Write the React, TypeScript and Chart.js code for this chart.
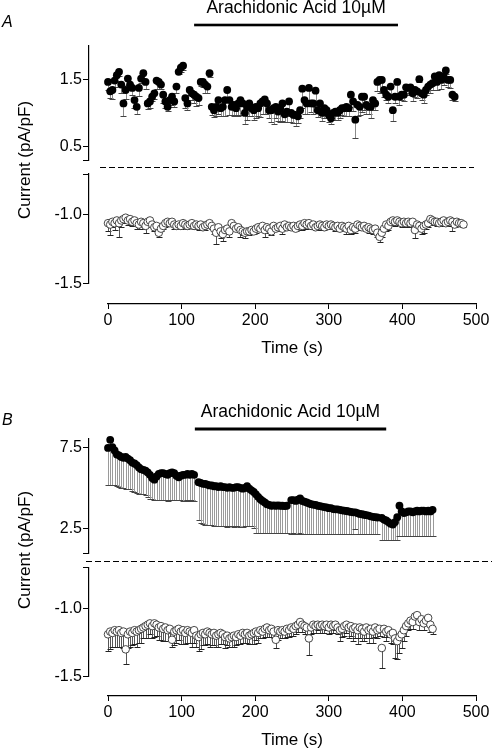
import React, { useEffect, useRef } from 'react';
import { Chart, registerables } from 'chart.js';

Chart.register(...registerables);

const FONT = "'Liberation Sans', Arial, Helvetica, sans-serif";
Chart.defaults.font.family = FONT;
Chart.defaults.color = '#000';

// ---------------- data ----------------
const SAMPLE_INTERVAL_S = 3;
const X_TICKS = [0, 100, 200, 300, 400, 500];
const X_TITLE = 'Time (s)';
const Y_TITLE = 'Current (pA/pF)';
const DRUG_LABEL = 'Arachidonic Acid 10\u00B5M';

// Panel A
const A_DRUG_WINDOW = [117, 394];
const A_UPPER_TICKS = [0.5, 1.5];
const A_LOWER_TICKS = [-1.5, -1.0];

const A_OUTWARD_MEAN = [
  1.46, 1.32, 1.34, 1.48, 1.56, 1.61, 1.42, 1.14, 1.34, 1.51,
  1.42, 1.37, 1.19, 1.09, 1.37, 1.51, 1.59, 1.46, 1.14, 1.17,
  1.24, 1.29, 1.48, 1.46, 1.42, 1.27, 1.17, 1.09, 1.19, 1.24,
  1.17, 1.39, 1.61, 1.67, 1.70, 1.22, 1.14, 1.34, 1.29, 1.27,
  1.24, 1.22, 1.46, 1.46, 1.42, 1.39, 1.59, 1.09, 1.04, 1.09,
  1.19, 1.07, 1.09, 1.19, 1.34, 1.19, 1.09, 1.12, 1.07, 1.14,
  1.19, 1.14, 1.00, 1.09, 1.14, 1.07, 1.04, 1.09, 1.07, 1.14,
  1.17, 1.20, 1.14, 1.04, 1.04, 1.07, 1.09, 1.02, 1.07, 1.14,
  0.98, 1.02, 1.17, 1.00, 0.97, 0.97, 0.95, 1.04, 1.36, 1.19,
  1.14, 1.37, 1.14, 1.14, 1.33, 1.04, 1.14, 1.00, 1.07, 1.04,
  0.97, 0.92, 1.00, 1.02, 1.00, 1.04, 1.07, 1.07, 1.09, 1.07,
  1.27, 1.17, 0.90, 1.12, 1.09, 1.24, 1.24, 1.12, 1.09, 1.09,
  1.19, 1.14, 1.46, 1.49, 1.49, 1.34, 1.27, 1.24, 1.39, 1.04,
  1.24, 1.46, 1.24, 1.27, 1.27, 1.38, 1.37, 1.38, 1.29, 1.34,
  1.32, 1.50, 1.29, 1.27, 1.34, 1.39, 1.42, 1.44, 1.54, 1.46,
  1.56, 1.49, 1.54, 1.63, 1.49, 1.49, 1.27, 1.24,
];
const A_OUTWARD_SEM = [
  0.12, 0.10, 0.14, 0.10, 0.08, 0.06, 0.12, 0.19, 0.14, 0.10,
  0.08, 0.10, 0.12, 0.10, 0.12, 0.06, 0.08, 0.10, 0.08, 0.10,
  0.06, 0.09, 0.12, 0.10, 0.06, 0.12, 0.10, 0.06, 0.10, 0.12,
  0.08, 0.10, 0.04, 0.06, 0.06, 0.14, 0.10, 0.08, 0.10, 0.12,
  0.14, 0.10, 0.06, 0.08, 0.12, 0.10, 0.05, 0.12, 0.10, 0.14,
  0.20, 0.12, 0.14, 0.24, 0.16, 0.22, 0.12, 0.16, 0.10, 0.18,
  0.22, 0.14, 0.16, 0.20, 0.18, 0.12, 0.14, 0.16, 0.12, 0.20,
  0.18, 0.22, 0.16, 0.12, 0.18, 0.24, 0.16, 0.14, 0.20, 0.26,
  0.12, 0.16, 0.22, 0.14, 0.12, 0.16, 0.10, 0.12, 0.28, 0.20,
  0.16, 0.26, 0.12, 0.16, 0.24, 0.10, 0.16, 0.12, 0.14, 0.12,
  0.10, 0.08, 0.10, 0.12, 0.10, 0.12, 0.10, 0.12, 0.14, 0.12,
  0.18, 0.14, 0.27, 0.16, 0.12, 0.22, 0.20, 0.14, 0.10, 0.16,
  0.14, 0.10, 0.14, 0.20, 0.18, 0.10, 0.08, 0.10, 0.16, 0.16,
  0.10, 0.18, 0.12, 0.08, 0.10, 0.06, 0.10, 0.08, 0.12, 0.10,
  0.10, 0.04, 0.10, 0.12, 0.08, 0.10, 0.12, 0.10, 0.08, 0.12,
  0.10, 0.14, 0.12, 0.06, 0.10, 0.12, 0.08, 0.06,
];
const A_INWARD_MEAN = [
  -1.06, -1.07, -1.05, -1.06, -1.04, -1.06, -1.04, -1.03, -1.02, -1.04,
  -1.03, -1.05, -1.04, -1.06, -1.07, -1.05, -1.06, -1.08, -1.05, -1.04,
  -1.07, -1.09, -1.08, -1.13, -1.10, -1.08, -1.06, -1.05, -1.06, -1.05,
  -1.07, -1.08, -1.07, -1.08, -1.06, -1.07, -1.08, -1.07, -1.06, -1.08,
  -1.07, -1.08, -1.07, -1.09, -1.08, -1.07, -1.06, -1.08, -1.10, -1.13,
  -1.09, -1.12, -1.14, -1.11, -1.10, -1.12, -1.06, -1.08, -1.10, -1.09,
  -1.11, -1.12, -1.13, -1.12, -1.12, -1.11, -1.12, -1.10, -1.09, -1.10,
  -1.08, -1.11, -1.09, -1.10, -1.12, -1.08, -1.10, -1.09, -1.08, -1.10,
  -1.07, -1.09, -1.08, -1.09, -1.08, -1.10, -1.08, -1.07, -1.08, -1.06,
  -1.07, -1.06, -1.08, -1.07, -1.09, -1.08, -1.07, -1.08, -1.09, -1.07,
  -1.08, -1.07, -1.08, -1.09, -1.08, -1.10, -1.08, -1.09, -1.10, -1.08,
  -1.11, -1.09, -1.10, -1.07, -1.08, -1.09, -1.08, -1.10, -1.09, -1.10,
  -1.11, -1.10, -1.13, -1.16, -1.13, -1.10, -1.07, -1.08, -1.05, -1.04,
  -1.05, -1.04, -1.05, -1.06, -1.05, -1.06, -1.05, -1.06, -1.05, -1.11,
  -1.07, -1.08, -1.10, -1.08, -1.07, -1.06, -1.03, -1.04, -1.05, -1.05,
  -1.06, -1.05, -1.04, -1.06, -1.05, -1.04, -1.05, -1.07, -1.05, -1.06,
  -1.06, -1.07,
];
const A_INWARD_SEM = [
  0.06, 0.08, 0.04, 0.05, 0.03, 0.10, 0.05, 0.03, 0.02, 0.03,
  0.02, 0.03, 0.02, 0.04, 0.03, 0.02, 0.04, 0.05, 0.02, 0.03,
  0.02, 0.03, 0.02, 0.03, 0.02, 0.02, 0.03, 0.02, 0.02, 0.02,
  0.03, 0.02, 0.02, 0.02, 0.03, 0.02, 0.02, 0.02, 0.03, 0.02,
  0.02, 0.03, 0.02, 0.02, 0.03, 0.02, 0.03, 0.02, 0.04, 0.08,
  0.03, 0.05, 0.05, 0.03, 0.03, 0.04, 0.02, 0.03, 0.02, 0.03,
  0.05, 0.03, 0.04, 0.02, 0.03, 0.02, 0.02, 0.03, 0.02, 0.02,
  0.03, 0.05, 0.02, 0.03, 0.03, 0.04, 0.02, 0.03, 0.03, 0.04,
  0.03, 0.02, 0.03, 0.02, 0.03, 0.02, 0.03, 0.02, 0.03, 0.04,
  0.02, 0.04, 0.02, 0.03, 0.02, 0.03, 0.02, 0.03, 0.02, 0.03,
  0.02, 0.03, 0.02, 0.03, 0.02, 0.02, 0.03, 0.02, 0.04, 0.02,
  0.03, 0.04, 0.03, 0.02, 0.03, 0.02, 0.03, 0.02, 0.04, 0.03,
  0.03, 0.02, 0.03, 0.04, 0.03, 0.02, 0.05, 0.03, 0.02, 0.02,
  0.03, 0.02, 0.02, 0.03, 0.02, 0.03, 0.02, 0.03, 0.02, 0.06,
  0.03, 0.04, 0.04, 0.05, 0.03, 0.03, 0.02, 0.03, 0.02, 0.03,
  0.02, 0.03, 0.02, 0.02, 0.03, 0.02, 0.07, 0.02, 0.03, 0.02,
  0.02, 0.02,
];

// Panel B
const B_DRUG_WINDOW = [118, 378];
const B_UPPER_TICKS = [2.5, 7.5];
const B_LOWER_TICKS = [-1.5, -1.0];

const B_OUTWARD_MEAN = [
  7.45, 7.95, 7.50, 7.30, 7.05, 7.00, 6.90, 6.85, 6.90, 6.80,
  6.70, 6.55, 6.50, 6.40, 6.25, 6.15, 6.10, 6.05, 5.95, 5.80,
  5.60, 5.50, 5.70, 5.85, 5.90, 5.90, 5.85, 5.80, 5.90, 5.95,
  5.90, 5.75, 5.65, 5.75, 5.80, 5.80, 5.85, 5.80, 5.85, 5.80,
  null, 5.35, 5.30, 5.25, 5.25, 5.20, 5.15, 5.15, 5.10, 5.10,
  5.05, 5.10, 5.05, 5.05, 5.00, 5.05, 5.00, 5.00, 5.05, 5.05,
  5.00, 4.95, 5.00, 5.10, 4.95, 4.85, 4.75, 4.60, 4.45, 4.30,
  4.20, 4.10, 4.00, 3.95, 3.90, 3.92, 3.90, 3.92, 3.90, 3.90,
  3.88, 3.90, null, 4.25, 4.25, 4.20, 4.28, 4.35, 4.20, 4.15,
  4.10, 4.05, 4.00, 3.97, 3.95, 3.90, 3.88, 3.85, 3.82, 3.80,
  3.75, 3.75, 3.70, 3.68, 3.68, 3.65, 3.62, 3.60, 3.58, 3.55,
  3.52, 3.50, 3.50, 3.45, 3.40, 3.38, 3.35, 3.32, 3.30, 3.25,
  3.22, 3.20, 3.18, null, 3.15, 3.05, 3.00, 2.90, 2.80, 2.75,
  2.90, 3.20, 3.90, 3.55, 3.45, 3.50, 3.55, 3.55, 3.50, 3.55,
  3.60, 3.55, 3.60, 3.60, 3.55, 3.60, 3.55, 3.65,
];
const B_OUTWARD_SEM = [
  2.30, 2.80, 2.35, 2.15, 1.95, 1.95, 1.90, 1.88, 1.95, 1.85,
  1.80, 1.75, 1.75, 1.70, 1.60, 1.55, 1.50, 1.50, 1.50, 1.50,
  1.30, 1.25, 1.45, 1.60, 1.65, 1.65, 1.62, 1.58, 1.65, 1.70,
  1.65, 1.52, 1.42, 1.52, 1.58, 1.58, 1.62, 1.58, 1.62, 1.58,
  null, 2.35, 2.45, 2.45, 2.50, 2.45, 2.42, 2.45, 2.42, 2.45,
  2.40, 2.45, 2.42, 2.40, 2.38, 2.42, 2.36, 2.38, 2.42, 2.40,
  2.38, 2.33, 2.36, 2.45, 2.32, 2.22, 2.20, 2.35, 2.20, 2.05,
  1.95, 1.85, 1.75, 1.70, 1.65, 1.67, 1.65, 1.68, 1.65, 1.67,
  1.64, 1.66, null, 2.07, 2.05, 2.02, 2.10, 2.15, 2.02, 1.98,
  1.92, 1.88, 1.82, 1.80, 1.77, 1.72, 1.70, 1.68, 1.64, 1.62,
  1.58, 1.57, 1.52, 1.50, 1.52, 1.48, 1.44, 1.42, 1.40, 1.38,
  1.34, 1.32, 1.05, 1.28, 1.22, 1.22, 1.18, 1.15, 1.14, 1.08,
  1.06, 1.04, 1.02, null, 1.37, 1.27, 1.22, 1.12, 1.02, 0.97,
  1.12, 1.42, 1.88, 1.53, 1.43, 1.48, 1.53, 1.53, 1.48, 1.53,
  1.58, 1.53, 1.58, 1.58, 1.53, 1.58, 1.53, 1.63,
];
const B_INWARD_MEAN = [
  -1.19, -1.17, -1.18, -1.16, -1.17, -1.16, -1.18, -1.17, -1.30, -1.19,
  -1.17, -1.18, -1.16, -1.17, -1.16, -1.15, -1.14, -1.13, -1.12, -1.11,
  -1.13, -1.11, -1.12, -1.14, -1.13, -1.15, -1.14, -1.16, -1.15, -1.23,
  -1.17, -1.16, -1.15, -1.17, -1.16, -1.18, -1.16, -1.17, -1.18, -1.16,
  -1.20, -1.21, -1.19, -1.18, -1.19, -1.17, -1.18, -1.19, -1.18, -1.20,
  -1.19, -1.18, -1.19, -1.21, -1.20, -1.22, -1.21, -1.20, -1.21, -1.19,
  -1.20, -1.18, -1.19, -1.18, -1.20, -1.19, -1.18, -1.17, -1.18, -1.16,
  -1.17, -1.15, -1.14, -1.16, -1.15, -1.17, -1.23, -1.16, -1.17, -1.16,
  -1.17, -1.15, -1.16, -1.14, -1.15, -1.13, -1.12, -1.10, -1.12, -1.13,
  -1.14, -1.22, -1.14, -1.12, -1.13, -1.12, -1.13, -1.12, -1.13, -1.12,
  -1.14, -1.12, -1.13, -1.12, -1.14, -1.16, -1.15, -1.13, -1.12, -1.14,
  -1.13, -1.15, -1.14, -1.16, -1.14, -1.15, -1.17, -1.14, -1.16, -1.15,
  -1.17, -1.14, -1.16, -1.15, -1.29, -1.15, -1.17, -1.16, -1.19, -1.18,
  -1.22, -1.24, -1.21, -1.19, -1.16, -1.13, -1.11, -1.09, -1.10, -1.06,
  -1.05, -1.10, -1.08, -1.11, -1.09, -1.07, -1.12, -1.15,
];
const B_INWARD_SEM = [
  0.12, 0.13, 0.10, 0.12, 0.11, 0.12, 0.10, 0.12, 0.11, 0.10,
  0.11, 0.09, 0.10, 0.11, 0.09, 0.10, 0.08, 0.09, 0.10, 0.08,
  0.09, 0.10, 0.08, 0.09, 0.10, 0.09, 0.10, 0.08, 0.09, 0.05,
  0.10, 0.09, 0.08, 0.09, 0.10, 0.08, 0.09, 0.08, 0.10, 0.09,
  0.08, 0.10, 0.11, 0.09, 0.08, 0.09, 0.10, 0.08, 0.09, 0.08,
  0.09, 0.08, 0.07, 0.08, 0.07, 0.06, 0.07, 0.08, 0.06, 0.07,
  0.06, 0.07, 0.06, 0.07, 0.06, 0.07, 0.08, 0.06, 0.07, 0.06,
  0.05, 0.06, 0.07, 0.05, 0.06, 0.05, 0.06, 0.07, 0.05, 0.06,
  0.05, 0.06, 0.05, 0.06, 0.05, 0.06, 0.05, 0.04, 0.05, 0.06,
  0.05, 0.12, 0.05, 0.06, 0.05, 0.04, 0.05, 0.06, 0.05, 0.04,
  0.05, 0.06, 0.05, 0.04, 0.05, 0.08, 0.06, 0.07, 0.06, 0.08,
  0.07, 0.09, 0.08, 0.10, 0.08, 0.09, 0.07, 0.08, 0.09, 0.07,
  0.08, 0.07, 0.06, 0.05, 0.15, 0.06, 0.07, 0.05, 0.06, 0.08,
  0.14, 0.13, 0.12, 0.10, 0.08, 0.07, 0.05, 0.06, 0.05, 0.04,
  0.05, 0.06, 0.04, 0.05, 0.03, 0.04, 0.05, 0.04,
];

// ---------------- helpers ----------------
type Num = number | null;

function toPoints(values: Num[]) {
  return values.map((v, i) => ({ x: i * SAMPLE_INTERVAL_S, y: v }));
}

const semPlugin = {
  id: 'semBars',
  beforeDatasetsDraw(chart: any) {
    const ctx = chart.ctx;
    chart.data.datasets.forEach((ds: any, di: number) => {
      const sem: Num[] | undefined = ds.sem;
      if (!sem) return;
      const meta = chart.getDatasetMeta(di);
      const xs = chart.scales[meta.xAxisID];
      const ys = chart.scales[meta.yAxisID];
      ctx.save();
      ctx.lineWidth = 1;
      ds.data.forEach((p: any, i: number) => {
        const e = sem[i];
        if (p.y == null || e == null) return;
        const x = Math.round(xs.getPixelForValue(p.x)) + 0.5;
        const y0 = ys.getPixelForValue(p.y);
        const y1 = Math.round(ys.getPixelForValue(p.y - e)) + 0.5;
        ctx.strokeStyle = ds.semColor;
        ctx.beginPath();
        ctx.moveTo(x, y0);
        ctx.lineTo(x, y1);
        ctx.stroke();
        ctx.strokeStyle = ds.semCapColor;
        ctx.beginPath();
        ctx.moveTo(x - 3, y1);
        ctx.lineTo(x + 3, y1);
        ctx.stroke();
      });
      ctx.restore();
    });
  },
};

const decorPlugin = {
  id: 'panelDecor',
  afterDraw(chart: any, _args: any, o: any) {
    const { ctx } = chart;
    const xs = chart.scales.x;
    const off = o.canvasTop;
    ctx.save();
    ctx.fillStyle = '#000';
    ctx.textBaseline = 'alphabetic';
    ctx.font = `italic 16px ${FONT}`;
    ctx.textAlign = 'left';
    ctx.fillText(o.letter, o.letterX, o.letterBaseline - off);
    const x0 = xs.getPixelForValue(o.drug[0]);
    const x1 = xs.getPixelForValue(o.drug[1]);
    ctx.fillRect(x0, o.barY - off - o.barWidth / 2, x1 - x0, o.barWidth);
    ctx.font = `17.5px ${FONT}`;
    ctx.textAlign = 'center';
    ctx.fillText(o.title, (x0 + x1) / 2, o.titleBaseline - off);
    ctx.strokeStyle = '#000';
    ctx.lineWidth = 1;
    ctx.setLineDash([6, 3]);
    ctx.beginPath();
    const dy = Math.round(o.dashY - off) + 0.5;
    ctx.moveTo(o.dashX0, dy);
    ctx.lineTo(o.dashX1, dy);
    ctx.stroke();
    ctx.restore();
  },
};

const yTitlePlugin = {
  id: 'sharedYTitle',
  afterDraw(chart: any, _args: any, o: any) {
    const { ctx } = chart;
    ctx.save();
    ctx.fillStyle = '#000';
    ctx.font = `17px ${FONT}`;
    ctx.textAlign = 'center';
    ctx.textBaseline = 'alphabetic';
    ctx.translate(o.baselineX, o.centerY - o.canvasTop);
    ctx.rotate(-Math.PI / 2);
    ctx.fillText(o.text, 0, 0);
    ctx.restore();
  },
};

function yAxis(min: number, max: number, labeled: number[], cap: number) {
  return {
    type: 'linear',
    position: 'left',
    weight: 1,
    min,
    max,
    afterBuildTicks: (s: any) => {
      s.ticks = [cap, ...labeled].map((value) => ({ value }));
    },
    ticks: {
      autoSkip: false,
      padding: 1,
      color: '#000',
      font: { size: 16 },
      callback: (v: any) => (Math.abs(Number(v) - cap) < 1e-9 ? '' : Number(v).toFixed(1)),
    },
    grid: { display: true, drawOnChartArea: false, drawTicks: true, tickLength: 6, color: '#000', lineWidth: 1 },
    border: { display: true, color: '#000', width: 1.2 },
    afterFit: (s: any) => {
      s.width = 60;
      s.paddingTop = 0;
      s.paddingBottom = 0;
    },
  };
}

const ySpacer = {
  type: 'linear',
  position: 'left',
  weight: 0,
  min: 0,
  max: 1,
  ticks: { display: false },
  grid: { display: false, drawTicks: false },
  border: { display: false },
  afterFit: (s: any) => {
    s.width = 19;
  },
};

function xSpacer(h: number) {
  return {
    type: 'linear',
    position: 'bottom',
    weight: 0,
    min: 0,
    max: 1,
    ticks: { display: false },
    grid: { display: false, drawTicks: false },
    border: { display: false },
    afterFit: (s: any) => {
      s.height = h;
    },
  };
}

const xAxisShown = {
  type: 'linear',
  position: 'bottom',
  weight: 1,
  min: 0,
  max: 500,
  afterBuildTicks: (s: any) => {
    s.ticks = X_TICKS.map((value) => ({ value }));
  },
  ticks: { autoSkip: false, maxRotation: 0, padding: 2, color: '#000', font: { size: 16 } },
  grid: { display: true, drawOnChartArea: false, drawTicks: true, tickLength: 5, color: '#000', lineWidth: 1 },
  border: { display: true, color: '#000', width: 1.2 },
  title: { display: true, text: X_TITLE, color: '#000', font: { size: 17 }, padding: 0 },
  afterFit: (s: any) => {
    s.height = 55;
    s.paddingLeft = 0;
    s.paddingRight = 0;
  },
};

const xAxisHidden = { type: 'linear', min: 0, max: 500, display: false };

function filledSet(label: string, mean: Num[], sem: Num[], semColor: string) {
  return {
    label,
    data: toPoints(mean),
    sem,
    semColor,
    semCapColor: '#444',
    showLine: false,
    clip: false,
    pointRadius: 3.9,
    pointBackgroundColor: '#000',
    pointBorderColor: '#000',
    pointBorderWidth: 0,
    xAxisID: 'x',
    yAxisID: 'y',
  };
}

function openSet(label: string, mean: Num[], sem: Num[]) {
  return {
    label,
    data: toPoints(mean),
    sem,
    semColor: '#555',
    semCapColor: '#222',
    showLine: false,
    clip: false,
    pointRadius: 3.8,
    pointBackgroundColor: '#fff',
    pointBorderColor: '#333',
    pointBorderWidth: 0.9,
    xAxisID: 'x',
    yAxisID: 'y',
  };
}

function baseOptions(padding: any, scales: any, plugins: any) {
  return {
    responsive: false,
    animation: false,
    devicePixelRatio: 1,
    events: [],
    layout: { padding },
    scales,
    plugins: { legend: { display: false }, tooltip: { enabled: false }, ...plugins },
  };
}

// ---------------- chart configs ----------------
const CHARTS = [
  {
    key: 'A-upper',
    top: 0,
    height: 172,
    build: () => ({
      type: 'scatter',
      data: { datasets: [filledSet('A outward', A_OUTWARD_MEAN, A_OUTWARD_SEM, '#8a8a8a')] },
      options: baseOptions(
        { top: 45.5, bottom: 11.9, left: 29, right: 16 },
        { x: xAxisHidden, y: yAxis(0.3, 2.0, A_UPPER_TICKS, 0.3), ySpace: ySpacer },
        {
          panelDecor: {
            canvasTop: 0, letter: 'A', letterX: 2, letterBaseline: 27,
            title: DRUG_LABEL, titleBaseline: 12.7, drug: A_DRUG_WINDOW,
            barY: 25, barWidth: 2.6, dashY: 167.3, dashX0: 100, dashX1: 474,
          },
        }
      ),
      plugins: [semPlugin, decorPlugin],
    }),
  },
  {
    key: 'A-lower',
    top: 95,
    height: 280,
    build: () => ({
      type: 'scatter',
      data: { datasets: [openSet('A inward', A_INWARD_MEAN, A_INWARD_SEM)] },
      options: baseOptions(
        { top: 79, bottom: 16, left: 29, right: 16 },
        { x: xAxisShown, xSpace: xSpacer(20.7), y: yAxis(-1.5, -0.7, A_LOWER_TICKS, -0.7), ySpace: ySpacer },
        { sharedYTitle: { canvasTop: 95, text: Y_TITLE, baselineX: 29.5, centerY: 160 } }
      ),
      plugins: [semPlugin, yTitlePlugin],
    }),
  },
  {
    key: 'B-upper',
    top: 390,
    height: 175,
    build: () => ({
      type: 'scatter',
      data: { datasets: [filledSet('B outward', B_OUTWARD_MEAN, B_OUTWARD_SEM, '#9a9a9a')] },
      options: baseOptions(
        { top: 49, bottom: 12, left: 29, right: 16 },
        { x: xAxisHidden, y: yAxis(1.0, 8.0, B_UPPER_TICKS, 1.0), ySpace: ySpacer },
        {
          panelDecor: {
            canvasTop: 390, letter: 'B', letterX: 2, letterBaseline: 425,
            title: DRUG_LABEL, titleBaseline: 416.7, drug: B_DRUG_WINDOW,
            barY: 429, barWidth: 3, dashY: 560.7, dashX0: 86, dashX1: 492,
          },
        }
      ),
      plugins: [semPlugin, decorPlugin],
    }),
  },
  {
    key: 'B-lower',
    top: 480,
    height: 271,
    build: () => ({
      type: 'scatter',
      data: { datasets: [openSet('B inward', B_INWARD_MEAN, B_INWARD_SEM)] },
      options: baseOptions(
        { top: 87.3, bottom: 0, left: 29, right: 16 },
        { x: xAxisShown, xSpace: xSpacer(19.3), y: yAxis(-1.5, -0.7, B_LOWER_TICKS, -0.7), ySpace: ySpacer },
        { sharedYTitle: { canvasTop: 480, text: Y_TITLE, baselineX: 29.5, centerY: 550 } }
      ),
      plugins: [semPlugin, yTitlePlugin],
    }),
  },
];

function ChartCanvas({ top, height, build }: { top: number; height: number; build: () => any }) {
  const ref = useRef<HTMLCanvasElement | null>(null);
  useEffect(() => {
    if (!ref.current) return;
    const chart = new Chart(ref.current, build());
    return () => chart.destroy();
  }, []);
  return (
    <canvas
      ref={ref}
      width={492}
      height={height}
      style={{ position: 'absolute', left: 0, top, width: 492, height, display: 'block' }}
    />
  );
}

export default function App() {
  return (
    <div style={{ position: 'absolute', left: 0, top: 0, width: 492, height: 751, background: '#fff' }}>
      {CHARTS.map((c) => (
        <ChartCanvas key={c.key} top={c.top} height={c.height} build={c.build} />
      ))}
    </div>
  );
}
